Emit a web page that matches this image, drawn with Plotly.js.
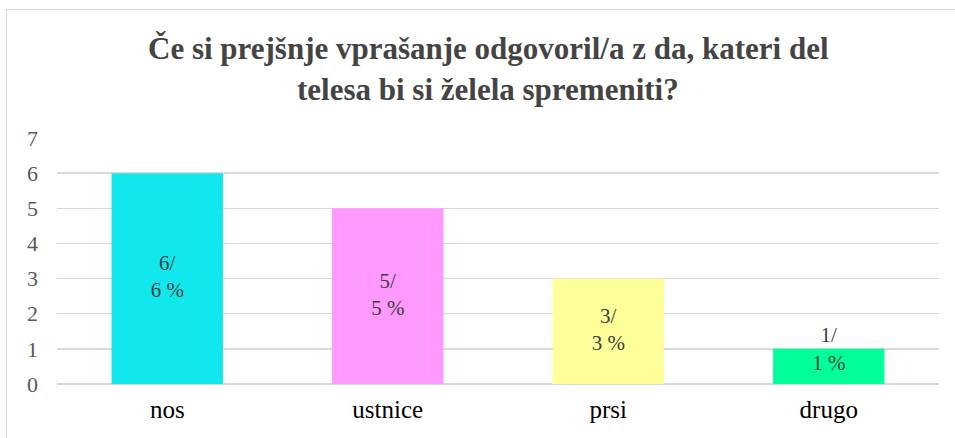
<!DOCTYPE html>
<html><head><meta charset="utf-8">
<script src="https://cdn.plot.ly/plotly-3.0.1.min.js"></script>
<style>
html,body{margin:0;padding:0;background:#fff;overflow:hidden}
#chart{position:absolute;left:0;top:0;width:955px;height:438px}
#frame{position:absolute;left:6px;top:9px;width:970px;height:460px;border:1.5px solid #d9d9d9;pointer-events:none}
</style></head><body>
<div id="chart"></div><div id="frame"></div>
<script>
const categories = ["nos", "ustnice", "prsi", "drugo"];
const counts = [6, 5, 3, 1];
const percents = [6, 5, 3, 1];
const colors = ["#10E8EE", "#FF99FF", "#FFFF99", "#00FF99"];
const titleLines = ["Če si prejšnje vprašanje odgovoril/a z da, kateri del", "telesa bi si želela spremeniti?"];

const labels = counts.map((c, i) => c + "/<br>" + percents[i] + " %");
const labelY = counts.map(c => Math.max(c / 2, 0.95));

const serif = "Liberation Serif";
const traces = [
  {type: "bar", x: categories, y: counts, width: 0.505,
   marker: {color: colors, line: {width: 0}}, hoverinfo: "skip"},
  {type: "scatter", mode: "text", x: categories, y: labelY, text: labels,
   textposition: "middle center", textfont: {family: serif, size: 21, color: "#404040"},
   hoverinfo: "skip", cliponaxis: false}
];
const titleY = [48, 89];
const layout = {
  width: 955, height: 438,
  margin: {l: 57, r: 16, t: 138, b: 54},
  showlegend: false,
  annotations: titleLines.map((t, i) => ({
    text: "<span style=\"font-family:'Liberation Serif',serif;font-weight:bold\">" + t + "</span>",
    xref: "paper", yref: "paper",
    x: (488 - 57) / 882, y: 1 + (138 - titleY[i]) / 246,
    xanchor: "center", yanchor: "middle", showarrow: false,
    font: {family: serif, size: 31}})),
  xaxis: {type: "category", showgrid: false, zeroline: false, showline: false, ticks: "",
          tickfont: {family: serif, size: 25, color: "#000"}, ticklabelstandoff: 8, fixedrange: true},
  yaxis: {range: [0, 7], dtick: 1, showgrid: true, gridcolor: "#d9d9d9", gridwidth: 1.5,
          zeroline: true, zerolinecolor: "#d9d9d9", zerolinewidth: 1.5, showline: false, ticks: "",
          tickfont: {family: serif, size: 22, color: "#595959"}, ticklabelstandoff: 18, fixedrange: true}
};
Plotly.newPlot("chart", traces, layout, {displayModeBar: false, staticPlot: true});
</script></body></html>
